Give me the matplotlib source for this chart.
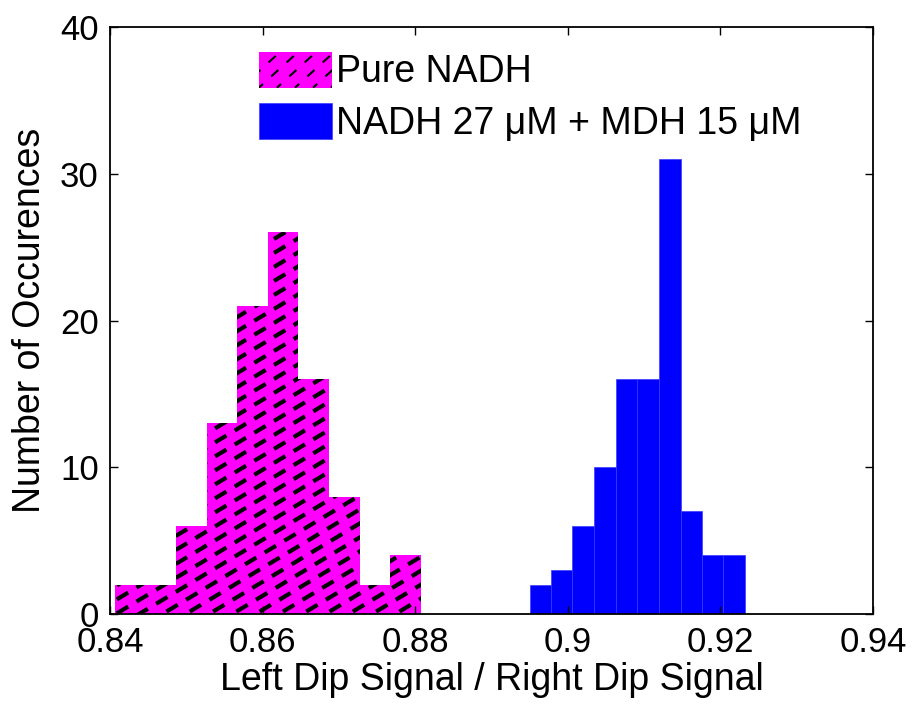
import numpy as np
import matplotlib
matplotlib.use('Agg')
import matplotlib.pyplot as plt
from matplotlib.collections import LineCollection
from matplotlib.patches import Rectangle, Patch
from matplotlib.legend_handler import HandlerPatch
from matplotlib.transforms import IdentityTransform

# histogram bins
nadh_edges = [0.8407, 0.8447, 0.8487, 0.8527, 0.8567, 0.8607,
              0.8647, 0.8687, 0.8727, 0.8767, 0.8807]
nadh_counts = [2, 2, 6, 13, 21, 26, 16, 8, 2, 4]

mdh_edges = [0.8950, 0.8978, 0.9006, 0.9034, 0.9063, 0.9091,
             0.9119, 0.9148, 0.9176, 0.9204, 0.9232]
mdh_counts = [2, 3, 6, 10, 16, 16, 31, 7, 4, 4]

labels = ['Pure NADH', 'NADH 27 \u03bcM + MDH 15 \u03bcM']
xticks = [0.84, 0.86, 0.88, 0.9, 0.92, 0.94]
xticklabels = ['0.84', '0.86', '0.88', '0.9', '0.92', '0.94']
yticks = [0, 10, 20, 30, 40]

plt.rcParams['font.family'] = ['Liberation Sans', 'DejaVu Sans']
plt.rcParams['lines.scale_dashes'] = False

DPI = 100
fig = plt.figure(figsize=(9.15, 7.05), dpi=DPI)
ax = fig.add_axes([110 / 915, (705 - 614) / 705, 763 / 915, 587 / 705])


class DashedHatchHandler(HandlerPatch):
    # legend key: magenta box with dashed diagonal lines
    def create_artists(self, legend, orig_handle, xdescent, ydescent,
                       width, height, fontsize, trans):
        rect = Rectangle((-xdescent, -ydescent), width, height,
                         facecolor=orig_handle.get_facecolor(),
                         edgecolor='none', transform=trans)
        segs = []
        for k in np.arange(-height, width + height, 13):
            segs.append([(-xdescent + k, -ydescent),
                         (-xdescent + k + height * 1.1, -ydescent + height)])
        lc = LineCollection(segs, colors='k', linewidths=1.5,
                            linestyles=[(3, (7, 8))], transform=trans)
        lc.set_clip_path(rect.get_path(), rect.get_transform())
        return [rect, lc]


nadh_bars = ax.bar(nadh_edges[:-1], nadh_counts, width=np.diff(nadh_edges),
                   align='edge', color='#ff00ff', edgecolor='none')
mdh_bars = ax.bar(mdh_edges[:-1], mdh_counts, width=np.diff(mdh_edges),
                  align='edge', color='#0000ff', edgecolor='#3a3aff',
                  linewidth=0.5)

# dashed hatch drawn in pixel space, clipped to each magenta bar
theta = np.deg2rad(31)
d = np.array([np.cos(theta), np.sin(theta)])
n = np.array([-np.sin(theta), np.cos(theta)])
center = np.array([457.0, 352.0])
segs = []
for k in range(-70, 71):
    p = center + n * k * 12
    segs.append([p - d * 1300, p + d * 1300])
for bar in nadh_bars:
    lc = LineCollection(segs, colors='k', linewidths=3.0,
                        linestyles=[(0, (9.5, 7))],
                        transform=IdentityTransform())
    ax.add_collection(lc, autolim=False)
    lc.set_clip_path(bar.get_path(), bar.get_transform())

ax.set_xlim(0.84, 0.94)
ax.set_ylim(0, 40)
ax.set_xticks(xticks)
ax.set_xticklabels(xticklabels)
ax.set_yticks(yticks)
ax.tick_params(direction='in', top=True, right=True, length=6, width=1,
               labelsize=25)
ax.tick_params(axis='x', pad=9)
ax.tick_params(axis='y', pad=8)
for s in ax.spines.values():
    s.set_linewidth(1.3)

ax.set_xlabel('Left Dip Signal / Right Dip Signal', fontsize=27, labelpad=2)
ax.set_ylabel('Number of Occurences', fontsize=27, labelpad=9)

h1 = Patch(facecolor='#ff00ff')
h2 = Patch(facecolor='#0000ff', edgecolor='#3a3aff', linewidth=0.5)
ax.legend([h1, h2], labels, loc='upper left', bbox_to_anchor=(0.195, 0.958),
          frameon=False, fontsize=27, handlelength=1.95, handleheight=1.1,
          handletextpad=0.12, labelspacing=0.33, borderpad=0, borderaxespad=0,
          handler_map={h1: DashedHatchHandler()})

fig.savefig('out.png', dpi=DPI)
